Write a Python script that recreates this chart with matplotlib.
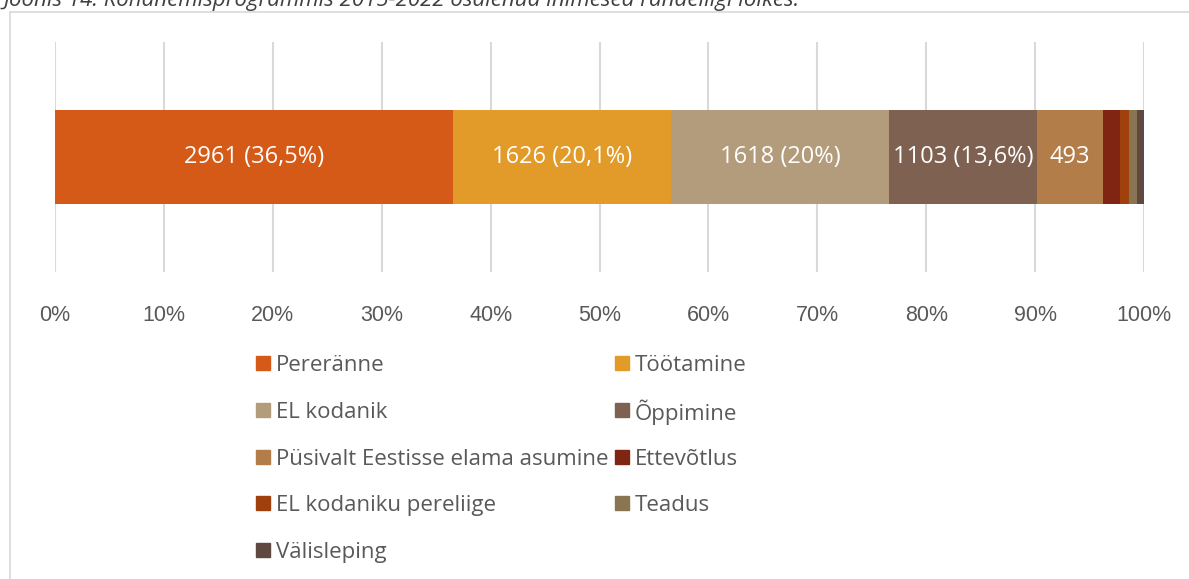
import matplotlib.pyplot as plt
from matplotlib.patches import Rectangle
import matplotlib.lines as mlines

plt.rcParams['font.family'] = ['Open Sans', 'DejaVu Sans']

# andmed
categories = ['Pereränne', 'Töötamine', 'EL kodanik', 'Õppimine',
              'Püsivalt Eestisse elama asumine', 'Ettevõtlus',
              'EL kodaniku pereliige', 'Teadus', 'Välisleping']
values = [2961, 1626, 1618, 1103, 493, 127, 68, 57, 52]
colors = ['#D65A17', '#E29A28', '#B39C7C', '#7F6152', '#B37D4A',
          '#7F2511', '#A0410D', '#8A7553', '#5F4840']
tick_labels = ['0%', '10%', '20%', '30%', '40%', '50%', '60%', '70%', '80%', '90%', '100%']
title = 'Joonis 14. Kohanemisprogrammis 2015-2022 osalenud inimesed rändeliigi lõikes.'

total = sum(values)
shares = [v / total for v in values]

fig = plt.figure(figsize=(11.89, 5.79), dpi=100)
W, H = 1189, 579

# raam ümber joonise
fig.add_artist(mlines.Line2D([9.5 / W, 9.5 / W], [0, 1 - 11.5 / H], color='#d9d9d9', lw=1.2))
fig.add_artist(mlines.Line2D([9.5 / W, 1], [1 - 11.5 / H, 1 - 11.5 / H], color='#d9d9d9', lw=1.2))

fig.text(3 / W, 1 - 6 / H, title, fontsize=16, style='italic', color='#404040',
         va='baseline', ha='left')

ax = fig.add_axes([55 / W, 1 - 272 / H, 1089 / W, 230 / H])

left = 0
for i, (cat, s) in enumerate(zip(categories, shares)):
    ax.barh(0, s, left=left, height=0.413, color=colors[i], zorder=3)
    if i < 4:
        pct = f'{round(s * 100, 1):g}'.replace('.', ',')
        lab = f'{values[i]} ({pct}%)'
    elif i == 4:
        lab = f'{values[i]}'
    else:
        lab = None
    if lab:
        ax.text(left + s / 2, 0.0, lab, ha='center', va='center', color='white', fontsize=17, zorder=4)
    left += s

ax.set_xlim(0, 1)
ax.set_ylim(-0.5, 0.5)
ax.set_xticks([i / 10 for i in range(11)])
ax.set_xticklabels(tick_labels, fontsize=15.5, color='#595959', family=['Liberation Sans'])
ax.tick_params(axis='x', length=0, pad=24)
ax.set_yticks([])
ax.grid(axis='x', color='#d9d9d9', lw=1.5, zorder=0)
for sp in ax.spines.values():
    sp.set_visible(False)

# legend käsitsi, ridade kaupa
col_x = [256, 615]
row_y = [363, 410, 457, 503, 550]
for i, cat in enumerate(categories):
    r, c = divmod(i, 2)
    x, y = col_x[c], row_y[r]
    fig.add_artist(Rectangle((x / W, (H - y - 7) / H), 14 / W, 14 / H,
                             color=colors[i], transform=fig.transFigure))
    fig.text((x + 20) / W, (H - y) / H, cat, fontsize=16, color='#595959',
             va='center_baseline', ha='left')

fig.savefig('out.png', dpi=100)
